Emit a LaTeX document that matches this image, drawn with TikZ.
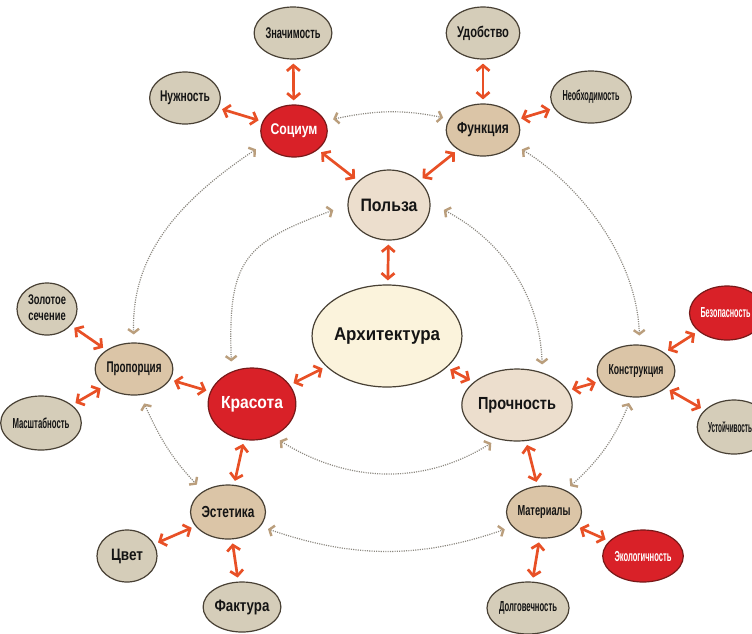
\documentclass[tikz,border=0pt]{standalone}
\usepackage{graphicx}
\usepackage{fontspec}
\setmainfont{Liberation Sans}
\usetikzlibrary{shapes.geometric,arrows.meta}
\definecolor{beigec}{RGB}{213,205,185}
\definecolor{tanc}{RGB}{219,197,167}
\definecolor{lightc}{RGB}{236,222,205}
\definecolor{creamc}{RGB}{251,243,220}
\definecolor{redc}{RGB}{217,33,40}
\definecolor{redb}{RGB}{120,25,25}
\definecolor{bordc}{RGB}{72,64,52}
\definecolor{txtc}{RGB}{20,20,20}
\definecolor{orngc}{RGB}{232,80,38}
\definecolor{dotgc}{RGB}{140,136,128}
\definecolor{arrtc}{RGB}{186,158,124}
\newcommand\fw[3]{{\fontsize{#1}{#1}\selectfont\bfseries\resizebox{#2pt}{\height}{#3}}}
\newcommand\fwtwo[4]{{\fontsize{#1}{16}\selectfont\bfseries\resizebox{#2pt}{\height}{\begin{tabular}{@{}c@{}}#3\\#4\end{tabular}}}}
\tikzset{
  nd/.style={ellipse, draw=bordc, line width=1.2pt, inner sep=0pt, text=txtc},
  nbeige/.style={nd, fill=beigec},
  ntan/.style={nd, fill=tanc},
  nlight/.style={nd, fill=lightc},
  ncream/.style={nd, fill=creamc},
  nred/.style={nd, fill=redc, draw=redb, text=white},
  sz/.style 2 args={minimum width=#1pt, minimum height=#2pt},
  oarr/.style={draw=orngc, line width=2.7pt,
    {Straight Barb[length=5.5pt,width=13pt]}-{Straight Barb[length=5.5pt,width=13pt]},
    shorten >=4pt, shorten <=4pt},
  darr/.style={draw=dotgc, line width=1.2pt, dash pattern=on 1.1pt off 1.2pt,
    {Straight Barb[length=4pt,width=11pt,line width=2.4pt,color=arrtc]}-{Straight Barb[length=4pt,width=11pt,line width=2.4pt,color=arrtc]}}
}
\begin{document}
\begin{tikzpicture}[x=1pt,y=1pt]
\clip (0,0) rectangle (752,-633);
\fill[white] (0,0) rectangle (752,-633);

% nodes
\node[nbeige, sz={60}{52}] (znach) at (293,-33) {\fw{15.5}{55}{Значимость}};
\node[nbeige, sz={56}{52}] (nuzh) at (185,-98) {\fw{15.5}{50}{Нужность}};
\node[nred, sz={58}{52}] (soc) at (294,-131) {\fw{15.5}{47}{Социум}};
\node[nbeige, sz={60}{52}] (udob) at (483,-33) {\fw{15.5}{52}{Удобство}};
\node[nbeige, sz={60}{52}] (neobh) at (591,-97) {\fw{14.5}{57}{Необходимость}};
\node[ntan, sz={60}{52}] (funk) at (483,-130) {\fw{16}{52}{Функция}};
\node[nlight, sz={82}{70}] (pol) at (389,-205) {\fw{18}{57}{Польза}};
\node[ncream, sz={120}{102}] (arch) at (387,-336) {\fw{18.5}{106}{Архитектура}};
\node[nred, sz={82}{72}] (kras) at (252,-404) {\fw{17.5}{62}{Красота}};
\node[nlight, sz={82}{72}] (proch) at (517,-405) {\fw{17.5}{78}{Прочность}};
\node[ntan, sz={58}{52}] (prop) at (134,-369) {\fw{15.5}{55}{Пропорция}};
\node[nbeige, sz={60}{52}] (zolot) at (47,-309) {\fwtwo{14}{38}{Золотое}{сечение}};
\node[nbeige, sz={58}{54}] (masht) at (41,-423) {\fw{14.5}{57}{Масштабность}};
\node[ntan, sz={60}{52}] (konstr) at (636,-371) {\fw{14.5}{55}{Конструкция}};
\node[nred, sz={58}{54}] (bezop) at (727,-313) {\fw{14.5}{50}{Безопасность}\hspace*{3pt}};
\node[nbeige, sz={60}{54}] (ustoich) at (734,-427) {\fw{14.5}{44}{Устойчивость}\hspace*{8pt}};
\node[ntan, sz={60}{54}] (est) at (228,-512) {\fw{16}{53}{Эстетика}};
\node[nbeige, sz={60}{52}] (cvet) at (127,-556) {\fw{16.5}{32}{Цвет}};
\node[nbeige, sz={60}{50}] (faktura) at (242,-607) {\fw{16.5}{55}{Фактура}};
\node[ntan, sz={60}{52}] (mater) at (544,-512) {\fw{14.5}{53}{Материалы}};
\node[nred, sz={60}{52}] (ekol) at (643,-556) {\fw{14.5}{57}{Экологичность}};
\node[nbeige, sz={60}{52}] (dolg) at (528,-608) {\fw{14.5}{58}{Долговечность}};

% orange double arrows
\draw[oarr] (znach) -- (soc);
\draw[oarr] (nuzh) -- (soc);
\draw[oarr] (soc) -- (pol);
\draw[oarr] (udob) -- (funk);
\draw[oarr] (funk) -- (neobh);
\draw[oarr] (funk) -- (pol);
\draw[oarr] (pol) -- (arch);
\draw[oarr] (arch) -- (kras);
\draw[oarr] (arch) -- (proch);
\draw[oarr] (prop) -- (kras);
\draw[oarr] (zolot) -- (prop);
\draw[oarr] (masht) -- (prop);
\draw[oarr] (proch) -- (konstr);
\draw[oarr] (konstr) -- (bezop);
\draw[oarr] (konstr) -- (ustoich);
\draw[oarr] (kras) -- (est);
\draw[oarr] (est) -- (cvet);
\draw[oarr] (est) -- (faktura);
\draw[oarr] (proch) -- (mater);
\draw[oarr] (mater) -- (ekol);
\draw[oarr] (mater) -- (dolg);

% dotted arcs
\draw[darr, shorten <=8pt, shorten >=6pt] (soc.18) to[out=12, in=168] (funk.162);
\draw[darr, shorten <=10pt, shorten >=8pt] (soc.203) to[out=214, in=92] (prop.90);
\draw[darr, shorten <=15pt, shorten >=10pt] (pol.180) to[out=200, in=92, looseness=1.4] (kras.122);
\draw[darr, shorten <=9pt, shorten >=9pt] (funk.335) to[out=-32, in=92, looseness=0.9] (konstr.82);
\draw[darr, shorten <=15pt, shorten >=8pt] (pol.3) to[out=-28, in=92] (proch.52);
\draw[darr, shorten <=9pt, shorten >=9pt] (prop.-76) to[out=-66, in=134] (est.140);
\draw[darr, shorten <=8pt, shorten >=7pt] (kras.-57) to[out=-32, in=212] (proch.240);
\draw[darr, shorten <=6pt, shorten >=6pt] (konstr.-100) to[out=248, in=42] (mater.45);
\draw[darr, shorten <=8pt, shorten >=8pt] (est.-24) to[out=-19, in=199] (mater.205);
\end{tikzpicture}
\end{document}
